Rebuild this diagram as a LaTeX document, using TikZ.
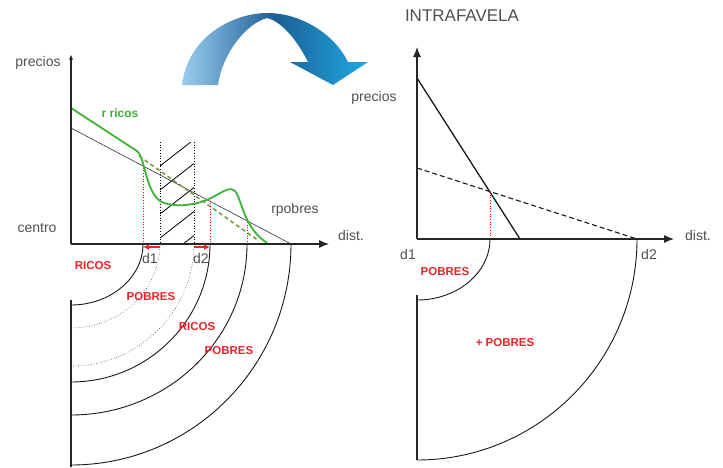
\documentclass[tikz,border=0pt]{standalone}
\usepackage{fontspec}
\setmainfont{Liberation Sans}
\usetikzlibrary{arrows.meta}
\definecolor{txtgrey}{HTML}{505050}
\definecolor{lblred}{HTML}{E8262A}
\definecolor{curvegreen}{HTML}{3DB33A}
\definecolor{dashgreen}{HTML}{7A9E45}
\definecolor{arrlight}{HTML}{9ACDEE}
\definecolor{arrdark}{HTML}{1D5E96}
\definecolor{arrcyan}{HTML}{1EAAE2}
\begin{document}
\begin{tikzpicture}[x=1pt,y=-1pt,
  greylbl/.style={text=txtgrey,font=\fontsize{14}{16}\selectfont,inner sep=0pt},
  titlelbl/.style={text=txtgrey,font=\fontsize{17}{19}\selectfont,inner sep=0pt},
  redlbl/.style={text=lblred,font=\bfseries\fontsize{11.5}{13}\selectfont,inner sep=0pt},
  greenlbl/.style={text=curvegreen,font=\bfseries\fontsize{12}{14}\selectfont,inner sep=0pt},
  axisline/.style={line width=1.1pt,black!85,-{Latex[length=10pt,width=8pt]}},
  smallaxis/.style={line width=1.1pt,black!85,-{Stealth[length=5pt,width=4pt]}},
  plainline/.style={line width=1.1pt,black!85},
  arcline/.style={line width=0.9pt,black!90},
  dotarc/.style={line width=0.6pt,black!80,dotted},
  reddot/.style={red,dotted,line width=0.7pt},
  redarrow/.style={lblred,line width=1.3pt,-{Latex[length=6pt,width=6pt]}},
  thinline/.style={line width=0.6pt,black!80},
  hatchline/.style={line width=0.8pt,black},
  bandline/.style={line width=0.7pt,black,dotted},
  greencurve/.style={curvegreen,line width=1.8pt},
  greendash/.style={dashgreen,line width=1.6pt,dash pattern=on 4pt off 3pt},
  steepline/.style={line width=1.3pt,black!90},
  flatdash/.style={line width=1.1pt,black!90,dash pattern=on 5pt off 3pt}]
\useasboundingbox[fill=white] (0,0) rectangle (723,467);

% ---------- curved blue arrow ----------
\shade[left color=arrlight,right color=arrcyan,middle color=arrdark]
  (182,85) .. controls (188,35) and (235,13) .. (267,13)
  .. controls (302,13) and (335,35) .. (348,62) -- (368,62) -- (333,85) -- (290,62) -- (308,62)
  .. controls (298,42) and (283,22) .. (267,18)
  .. controls (245,24) and (222,55) .. (218,85) -- cycle;

% ---------- left diagram ----------
\coordinate (LO) at (71,244);
\coordinate (LYtop) at (71,55);
\coordinate (LXend) at (329,244);
\coordinate (LYlow) at (71,300);
\coordinate (LYbot) at (71,467);

% hatched band
\begin{scope}
  \clip (160,142) rectangle (194,244);
  \foreach \yy in {142,166,190,214,238,262}{
    \draw[hatchline] (160,\yy) -- (194,\yy-26.5);
  }
\end{scope}
\coordinate (B1t) at (160,142); \coordinate (B1b) at (160,244);
\coordinate (B2t) at (194,142); \coordinate (B2b) at (194,244);
\draw[bandline] (B1t) -- (B1b);
\draw[bandline] (B2t) -- (B2b);

% r pobres line
\coordinate (RPs) at (71,128);
\coordinate (RPe) at (291,244);
\draw[thinline] (RPs) -- (RPe);

% green dashed
\coordinate (GDs) at (139,156);
\coordinate (GDe) at (259,241);
\draw[greendash] (GDs) -- (GDe);

% red dotted verticals
\coordinate (R1t) at (143,165); \coordinate (R1b) at (143,244);
\coordinate (R2t) at (210,198); \coordinate (R2b) at (210,244);
\coordinate (R3t) at (247,222); \coordinate (R3b) at (247,244);
\draw[reddot] (R1t) -- (R1b);
\draw[reddot] (R2t) -- (R2b);
\draw[reddot] (R3t) -- (R3b);

% green curve r ricos
\coordinate (GCs) at (71,108);
\coordinate (GCe) at (267,243);
\draw[greencurve] (GCs) -- (137,151)
  .. controls (146,158) and (145,196) .. (164,203)
  .. controls (180,208) and (200,204) .. (213,197)
  .. controls (226,190) and (233,184) .. (238,196)
  .. controls (244,212) and (248,230) .. (GCe);

% axes
\draw[axisline] (LO) -- (LXend);
\draw[smallaxis] (LO) -- (LYtop);
\draw[plainline] (LYlow) -- (LYbot);

% red arrows d1 / d2
\coordinate (A1s) at (160,247); \coordinate (A1e) at (143,247);
\coordinate (A2s) at (194,247); \coordinate (A2e) at (210,247);
\draw[redarrow] (A1s) -- (A1e);
\draw[redarrow] (A2s) -- (A2e);

% arcs
\coordinate (C1a) at (143,244); \coordinate (C1b) at (71,305);
\coordinate (C2a) at (160,244); \coordinate (C2b) at (71,328);
\coordinate (C3a) at (194,244); \coordinate (C3b) at (71,366);
\coordinate (C4a) at (210,244); \coordinate (C4b) at (71,382);
\coordinate (C5a) at (247,244); \coordinate (C5b) at (71,415);
\coordinate (C6a) at (291,244); \coordinate (C6b) at (71,465);
\draw[arcline] (C1a) .. controls (143,277.7) and (110.7,305) .. (C1b);
\draw[dotarc]  (C2a) .. controls (160,290.4) and (120.1,328) .. (C2b);
\draw[dotarc]  (C3a) .. controls (194,311.3) and (138.9,366) .. (C3b);
\draw[arcline] (C4a) .. controls (210,320.2) and (147.7,382) .. (C4b);
\draw[arcline] (C5a) .. controls (247,338.4) and (168.2,415) .. (C5b);
\draw[arcline] (C6a) .. controls (291,366) and (192.4,465) .. (C6b);

% labels left
\node[greylbl] (lprecios) at (38,63) {precios};
\node[greylbl] (lcentro) at (37,228) {centro};
\node[greylbl] (ldist) at (351,235) {dist.};
\node[greylbl] (lrpobres) at (295,210) {rpobres};
\node[greenlbl] (lrricos) at (120,113) {r ricos};
\node[greylbl] (ld1) at (150,258) {d1};
\node[greylbl] (ld2) at (201,258) {d2};
\node[redlbl] (lricos1) at (93,266) {RICOS};
\node[redlbl] (lpobres1) at (151,297) {POBRES};
\node[redlbl] (lricos2) at (197,327) {RICOS};
\node[redlbl] (lpobres2) at (229,351) {POBRES};

% ---------- right diagram ----------
\coordinate (RO) at (417,239);
\coordinate (RYtop) at (417,47);
\coordinate (RXend) at (674,239);
\coordinate (RYlow) at (417,295);
\coordinate (RYbot) at (417,460);

\coordinate (Ss) at (417,78); \coordinate (Se) at (520,239);
\coordinate (Ds) at (417,168); \coordinate (De) at (637,239);
\draw[steepline] (Ss) -- (Se);
\draw[flatdash] (Ds) -- (De);
\coordinate (Xt) at (490,192); \coordinate (Xb) at (490,239);
\draw[reddot] (Xt) -- (Xb);

\draw[axisline] (RO) -- (RXend);
\draw[axisline] (RO) -- (RYtop);
\draw[plainline] (RYlow) -- (RYbot);

\coordinate (E1a) at (490,239); \coordinate (E1b) at (417,300);
\coordinate (E2a) at (637,239); \coordinate (E2b) at (417,460);
\draw[arcline] (E1a) .. controls (490,272.7) and (457.3,300) .. (E1b);
\draw[arcline] (E2a) .. controls (637,361) and (538.4,460) .. (E2b);

\node[titlelbl] (rtitle) at (462,16) {INTRAFAVELA};
\node[greylbl] (rprecios) at (374,98) {precios};
\node[greylbl] (rdist) at (698,235) {dist.};
\node[greylbl] (rd1) at (408,254) {d1};
\node[greylbl] (rd2) at (649,254) {d2};
\node[redlbl] (rpobres) at (445,272) {POBRES};
\node[redlbl] (rmaspobres) at (505,343) {+ POBRES};
\end{tikzpicture}
\end{document}
